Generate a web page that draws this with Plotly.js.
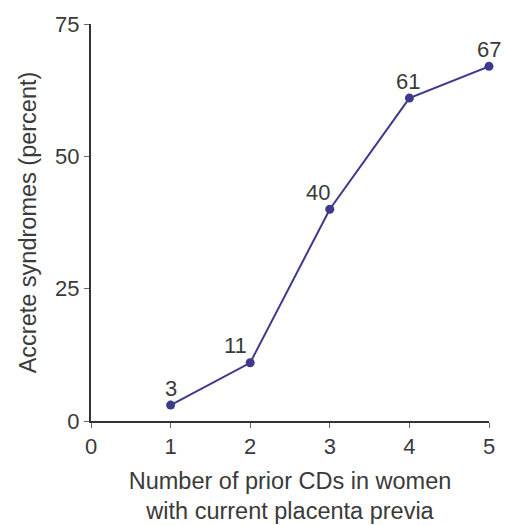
<!DOCTYPE html>
<html>
<head>
<meta charset="utf-8">
<script src="https://cdn.plot.ly/plotly-3.0.1.min.js"></script>
<style>html,body{margin:0;padding:0;background:#fff;}#chart{width:505px;height:525px;}</style>
</head>
<body>
<div id="chart"></div>
<script>
const priorCDs = [1, 2, 3, 4, 5];
const accretePercent = [3, 11, 40, 61, 67];
const pointLabels = ['3', '11', '40', '61', '67'];
const xTickVals = [0, 1, 2, 3, 4, 5];
const yTickVals = [0, 25, 50, 75];

const FONT = 'Liberation Sans, Arial, sans-serif';
const labelXShift = [0, -15, -12, -1, 0];

const trace = {
  x: priorCDs,
  y: accretePercent,
  mode: 'lines+markers',
  line: {color: '#3d3a8c', width: 2},
  marker: {color: '#3d3a8c', size: 9},
  cliponaxis: false,
  hoverinfo: 'skip'
};

const annotations = priorCDs.map((xv, i) => ({
  x: xv, y: accretePercent[i], xref: 'x', yref: 'y',
  text: pointLabels[i], showarrow: false,
  xanchor: 'center', yanchor: 'middle',
  xshift: labelXShift[i], yshift: 17,
  font: {family: FONT, size: 22, color: '#3a3a3a'}
}));

const layout = {
  width: 505, height: 525,
  margin: {l: 91, r: 16, t: 24, b: 104},
  paper_bgcolor: '#fff', plot_bgcolor: '#fff',
  showlegend: false,
  font: {family: FONT, color: '#3a3a3a', size: 22},
  annotations: annotations,
  xaxis: {
    range: [0, 5], tickvals: xTickVals, ticks: 'outside', ticklen: 5, tickcolor: '#666',
    showline: true, linecolor: '#333', linewidth: 2, showgrid: false, zeroline: false,
    tickfont: {size: 22},
    title: {text: 'Number of prior CDs in women<br>with current placenta previa', font: {size: 23.5}, standoff: 14}
  },
  yaxis: {
    range: [0, 75], tickvals: yTickVals, ticks: 'outside', ticklen: 5, tickcolor: '#666',
    showline: true, linecolor: '#333', linewidth: 2, showgrid: false, zeroline: false,
    tickfont: {size: 22},
    title: {text: 'Accrete syndromes (percent)', font: {size: 23.5}, standoff: 12}
  }
};

Plotly.newPlot('chart', [trace], layout, {staticPlot: true});
</script>
</body>
</html>
